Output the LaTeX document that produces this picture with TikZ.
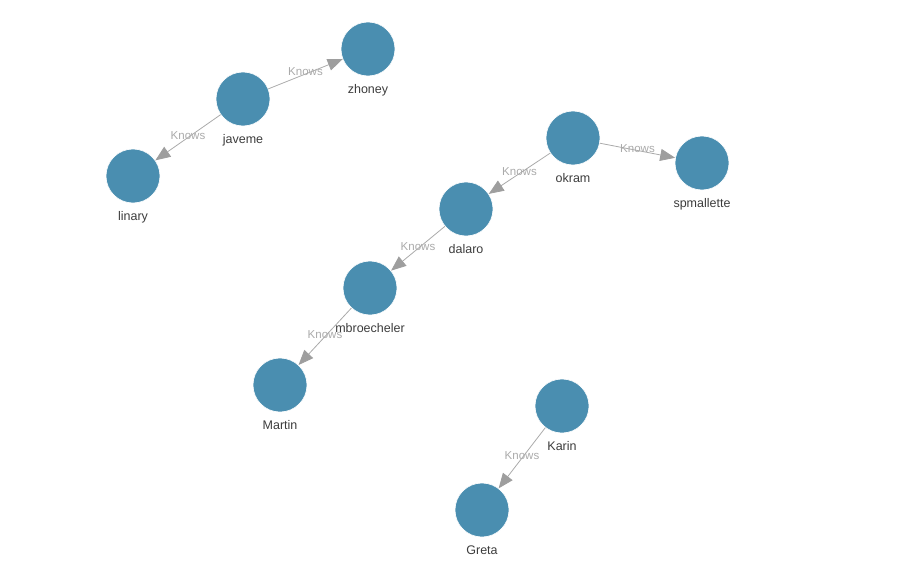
\documentclass[tikz,border=0pt]{standalone}
\usepackage{fontspec}
\setmainfont{Liberation Sans}
\usetikzlibrary{arrows.meta}

\definecolor{vertexblue}{RGB}{74,142,176}
\definecolor{edgegray}{RGB}{170,170,170}
\definecolor{tipgray}{RGB}{158,158,158}
\definecolor{namegray}{RGB}{60,60,60}

\begin{document}
\begin{tikzpicture}[x=1pt, y=-1pt,
    vertex/.style={circle, fill=vertexblue, draw=white, line width=0.6pt,
      minimum size=54pt, inner sep=0pt},
    every label/.style={font=\fontsize{12.5}{14}\selectfont, text=namegray},
    knows/.style={draw=edgegray, line width=0.8pt,
      -{Triangle[length=15pt, width=12pt, color=tipgray]}},
    edgelabel/.style={font=\fontsize{11.5}{12}\selectfont, text=edgegray,
      midway, yshift=2pt, inner sep=0pt}]
        \useasboundingbox (0,0) rectangle (906,581);
        % vertices
        \node[vertex, label={[label distance=4.5pt]below:zhoney}] (zhoney) at (368, 49) {};
        \node[vertex, label={[label distance=4.5pt]below:javeme}] (javeme) at (243, 99) {};
        \node[vertex, label={[label distance=4.5pt]below:linary}] (linary) at (133, 176) {};
        \node[vertex, label={[label distance=4.5pt]below:okram}] (okram) at (573, 138) {};
        \node[vertex, label={[label distance=4.5pt]below:spmallette}] (spmallette) at (702, 163) {};
        \node[vertex, label={[label distance=4.5pt]below:dalaro}] (dalaro) at (466, 209) {};
        \node[vertex, label={[label distance=4.5pt]below:mbroecheler}] (mbroecheler) at (370, 288) {};
        \node[vertex, label={[label distance=4.5pt]below:Martin}] (Martin) at (280, 385) {};
        \node[vertex, label={[label distance=4.5pt]below:Karin}] (Karin) at (562, 406) {};
        \node[vertex, label={[label distance=4.5pt]below:Greta}] (Greta) at (482, 510) {};
        % edges
        \foreach \a/\b in {javeme/zhoney, javeme/linary, okram/spmallette, okram/dalaro,
            dalaro/mbroecheler, mbroecheler/Martin, Karin/Greta}
          \draw[knows] (\a) -- node[edgelabel] {Knows} (\b);
      \end{tikzpicture}
\end{document}
